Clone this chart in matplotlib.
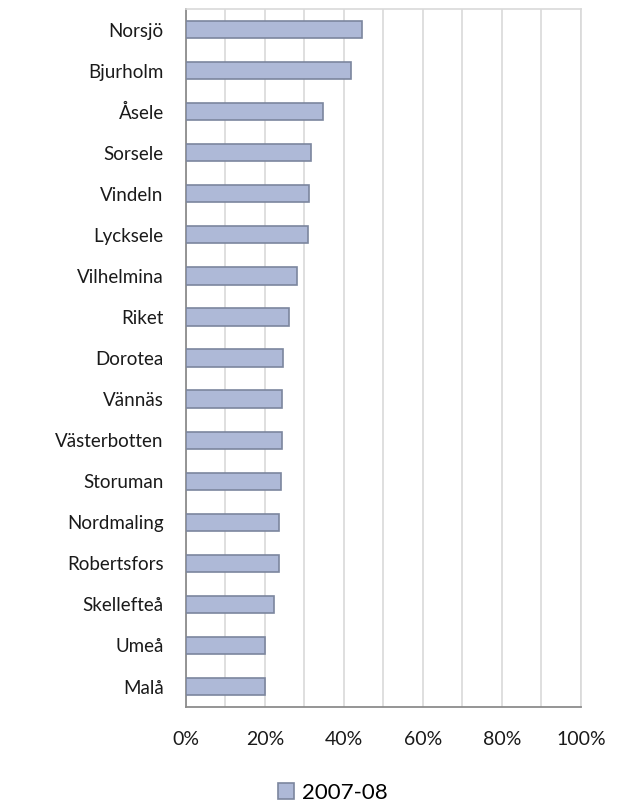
import matplotlib
matplotlib.use('Agg')
import matplotlib.pyplot as plt
from matplotlib.patches import Patch
from matplotlib.ticker import MultipleLocator, FuncFormatter

# Data (andel, 2007-08)
kommuner = ['Norsjö', 'Bjurholm', 'Åsele', 'Sorsele', 'Vindeln', 'Lycksele',
            'Vilhelmina', 'Riket', 'Dorotea', 'Vännäs', 'Västerbotten',
            'Storuman', 'Nordmaling', 'Robertsfors', 'Skellefteå', 'Umeå', 'Malå']
andel = [0.446, 0.419, 0.348, 0.316, 0.311, 0.308, 0.282, 0.262, 0.245, 0.244,
         0.243, 0.240, 0.235, 0.235, 0.224, 0.199, 0.199]
serie = '2007-08'

plt.rcParams['font.family'] = ['Lato', 'DejaVu Sans']

fig = plt.figure(figsize=(6.4, 8.05), dpi=100)
ax = fig.add_axes([0.2906, 0.1217, 0.6172, 0.8671])

pos = list(range(len(kommuner)))[::-1]
ax.barh(pos, andel, height=0.42, color='#AEB9D7', edgecolor='#7C869E', linewidth=1.2, zorder=3)

ax.set_xlim(0, 1)
ax.set_ylim(-0.5, len(kommuner) - 0.5)
ax.set_yticks(pos)
ax.set_yticklabels(kommuner, fontsize=13.5, color='#1a1a1a')
ax.xaxis.set_major_locator(MultipleLocator(0.2))
ax.xaxis.set_minor_locator(MultipleLocator(0.1))
ax.xaxis.set_major_formatter(FuncFormatter(lambda v, p: f'{v*100:.0f}%'))
ax.tick_params(axis='x', which='both', length=0, pad=17, labelsize=14, labelcolor='#1a1a1a')
ax.tick_params(axis='y', length=0, pad=16)

ax.grid(axis='x', which='both', color='#D9D9D9', linewidth=1.2, zorder=0)
ax.set_axisbelow(True)

for side in ['left', 'bottom']:
    ax.spines[side].set_color('#8C8C8C')
    ax.spines[side].set_linewidth(1.3)
for side in ['top', 'right']:
    ax.spines[side].set_color('#D9D9D9')
    ax.spines[side].set_linewidth(1.2)

handle = Patch(facecolor='#AEB9D7', edgecolor='#7C869E', linewidth=1.2)
fig.legend([handle], [serie], loc='center', bbox_to_anchor=(0.52, 0.015),
           frameon=False, fontsize=16, handlelength=0.7, handleheight=0.7,
           handletextpad=0.35)

fig.savefig('out.png', dpi=100, facecolor='white')
